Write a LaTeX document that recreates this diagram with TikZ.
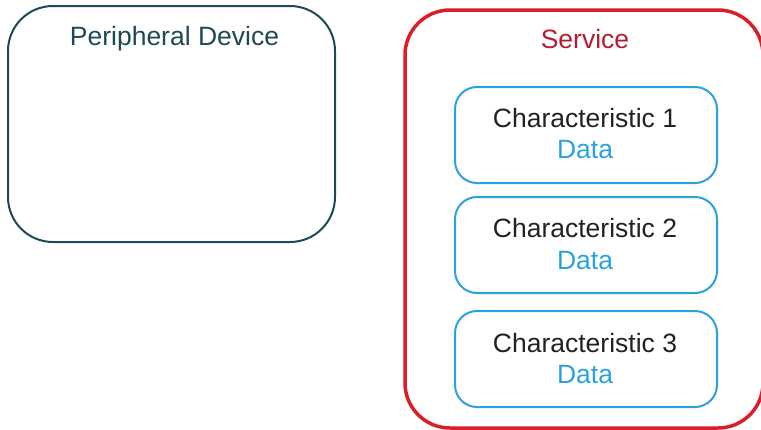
\documentclass[tikz,border=0pt]{standalone}
\usepackage{fontspec}
\setmainfont{Liberation Sans}
\definecolor{teal}{HTML}{1D4A55}
\definecolor{svcred}{HTML}{DA1F2B}
\definecolor{svctext}{HTML}{B51D30}
\definecolor{charblue}{HTML}{2AA2DC}
\definecolor{chartext}{HTML}{222222}
\begin{document}
\begin{tikzpicture}[x=1pt,y=-1pt,
  box/.style={rectangle,rounded corners=#1,inner sep=0pt,outer sep=0pt},
  periph/.style={box=45pt,draw=teal,line width=2pt,minimum width=327pt,minimum height=236pt},
  svc/.style={box=45pt,draw=svcred,line width=3.5pt,minimum width=358pt,minimum height=418pt},
  charbox/.style={box=22pt,draw=charblue,line width=2pt,minimum width=262pt,minimum height=96pt},
  lbl/.style={anchor=base,inner sep=0pt,font=\fontsize{26.5}{30}\selectfont}
]
\useasboundingbox (0,0) rectangle (761,429);
\clip (0,0) rectangle (761,429);
\fill[white] (0,0) rectangle (761,429);
\node[periph] (pd) at (171.5,124) {};
\node[svc] (svc) at (584,219) {};
\node[charbox] (c1) at (586,135) {};
\node[charbox] (c2) at (586,245) {};
\node[charbox] (c3) at (586,359) {};
\node[lbl,text=teal] (pdt) at (174.5,45) {Peripheral Device};
\node[lbl,text=svctext] (svct) at (585,48) {Service};
\node[lbl,text=chartext] (c1t) at (585,127) {Characteristic 1};
\node[lbl,text=charblue] (c1d) at (585,158) {Data};
\node[lbl,text=chartext] (c2t) at (585,237) {Characteristic 2};
\node[lbl,text=charblue] (c2d) at (585,269) {Data};
\node[lbl,text=chartext] (c3t) at (585,352) {Characteristic 3};
\node[lbl,text=charblue] (c3d) at (585,383) {Data};
\end{tikzpicture}
\end{document}
